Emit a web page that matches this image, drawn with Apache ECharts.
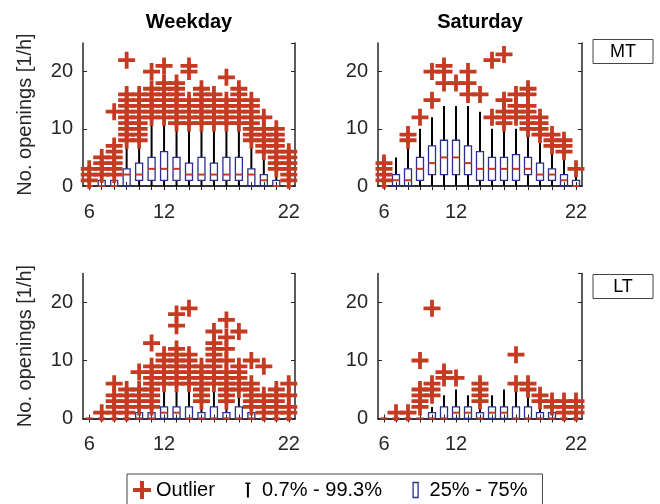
<!DOCTYPE html>
<html>
<head>
<meta charset="utf-8">
<script src="https://cdn.jsdelivr.net/npm/echarts@6/dist/echarts.min.js"></script>
<style>
  html, body { margin: 0; padding: 0; background: #fff; }
  #chart { width: 660px; height: 504px; }
</style>
</head>
<body>
<div id="chart"></div>
<script>
// hours of the day (categories)
const hours = [6, 7, 8, 9, 10, 11, 12, 13, 14, 15, 16, 17, 18, 19, 20, 21, 22];
const hourLabels = [6, 12, 22];
const zeros = [0, 0, 0, 0, 0, 0, 0, 0, 0, 0, 0, 0, 0, 0, 0, 0, 0];

// Weekday, MT
const wdMtQ1 = [0, 0, 0, 0, 1, 1, 1, 1, 1, 1, 1, 1, 1, 0, 0, 0, 0];
const wdMtMed = [0, 0, 0, 2, 2, 3, 3, 3, 2, 2, 2, 2, 2, 2, 1, 0, 0];
const wdMtQ3 = [0, 1, 1, 3, 4, 5, 6, 5, 4, 5, 4, 5, 5, 3, 2, 1, 0];
const wdMtHi = [0, 1, 1, 7, 7, 11, 11, 10, 10, 10, 10, 10, 10, 7, 5, 2, 0];
const wdMtOut = [[1, 2, 3], [2, 3, 4, 5], [2, 3, 4, 5, 6, 7, 13], [8, 9, 10, 11, 12, 13, 14, 15, 16, 22],
  [8, 9, 10, 11, 12, 13, 14, 15, 16], [12, 13, 14, 15, 16, 17, 20], [12, 13, 14, 15, 16, 17, 18, 21],
  [11, 12, 13, 14, 15, 16, 17, 18], [11, 12, 13, 14, 15, 20, 21], [11, 12, 13, 14, 15, 16, 17],
  [11, 12, 13, 14, 15, 16], [11, 12, 13, 14, 15, 19], [11, 12, 13, 14, 15, 16, 17],
  [8, 9, 10, 11, 12, 13, 14, 15], [6, 7, 8, 9, 10, 12], [3, 4, 5, 6, 7, 8, 9, 10], [1, 2, 3, 4, 5, 6]];

// Saturday, MT
const satMtQ1 = [0, 0, 0, 1, 2, 2, 2, 2, 1, 1, 1, 1, 2, 1, 1, 0, 0];
const satMtMed = [0, 1, 1, 3, 4, 5, 5, 4, 3, 3, 3, 3, 3, 2, 2, 1, 0];
const satMtQ3 = [0, 2, 3, 5, 7, 8, 8, 7, 6, 5, 5, 5.5, 5, 4, 3, 2, 1];
const satMtHi = [0, 5, 7, 10, 12, 14, 14, 14, 13, 10, 10, 10, 9, 8, 6, 5, 2];
const satMtOut = [[1, 2, 3, 4], [], [8, 9], [12], [15, 20], [18, 20, 21], [18], [16, 18, 20], [16], [12, 22],
  [11, 12, 13, 15, 23], [12, 13, 14, 16], [10, 11, 12, 13, 14, 16, 17], [9, 10, 11, 12], [7, 8, 9], [6, 7, 8], [3]];

// Weekday, LT
const wdLtMed = [0, 0, 0, 0, 0, 0, 1, 1, 0, 0, 0, 0, 0, 0, 0, 0, 0];
const wdLtQ3 = [0, 0, 0, 0, 1, 1, 2, 2, 2, 1, 2, 1, 2, 1, 0, 0, 0];
const wdLtHi = [0, 0, 0, 0, 1, 1, 5, 5, 5, 2, 5, 2, 4, 1, 0, 0, 0];
const wdLtOut = [[], [1], [1, 2, 3, 4, 6], [1, 2, 3, 4, 5], [2, 3, 4, 5, 8], [2, 3, 4, 5, 6, 7, 8, 9, 13],
  [6, 7, 8, 9, 10, 11], [6, 7, 8, 9, 10, 11, 12, 16, 18], [6, 7, 8, 9, 10, 11, 19], [3, 4, 5, 6, 7, 8, 9],
  [6, 7, 8, 9, 10, 11, 12, 13, 15], [3, 4, 5, 6, 7, 8, 10, 12, 14, 17], [5, 6, 7, 8, 9, 15],
  [2, 3, 4, 5, 6, 10], [1, 2, 3, 4, 9], [1, 2, 3, 4, 5], [1, 2, 4, 6]];

// Saturday, LT
const satLtMed = [0, 0, 0, 0, 0, 0, 1, 1, 0, 1, 1, 0, 0, 0, 0, 0, 0];
const satLtQ3 = [0, 0, 0, 0, 1, 2, 2, 2, 1, 2, 2, 2, 2, 1, 1, 0, 0];
const satLtHi = [0, 0, 0, 0, 2, 4, 5, 4, 2, 4, 5, 5, 4, 2, 1, 0, 0];
const satLtOut = [[], [1], [1], [2, 3, 4, 5, 10], [4, 5, 6, 19], [7, 8], [7], [], [3, 4, 5, 6], [], [],
  [6, 11], [5, 6], [3, 4], [2, 3], [1, 2, 3], [1, 2, 3]];

const FONT = "'Liberation Sans', Arial, Helvetica, sans-serif";
const AXIS_COLOR = '#262626';
const RED = '#c53b22';
const BLUE = '#2b2f8f';
const PLUS = 'path://M7,0h4v7h7v4h-7v7h-4v-7h-7v-4h7z';

const panels = [
  { lo: zeros, q1: wdMtQ1, med: wdMtMed, q3: wdMtQ3, hi: wdMtHi, out: wdMtOut },
  { lo: zeros, q1: satMtQ1, med: satMtMed, q3: satMtQ3, hi: satMtHi, out: satMtOut },
  { lo: zeros, q1: zeros, med: wdLtMed, q3: wdLtQ3, hi: wdLtHi, out: wdLtOut },
  { lo: zeros, q1: zeros, med: satLtMed, q3: satLtQ3, hi: satLtHi, out: satLtOut }
];

const grids = [
  { left: 83, top: 43, width: 212, height: 143 },
  { left: 378, top: 43, width: 204, height: 143 },
  { left: 83, top: 273.5, width: 212, height: 145 },
  { left: 378, top: 273.5, width: 204, height: 145 }
];

// whisker: lower and upper black lines
function renderWhisker(params, api) {
  const x = api.value(0);
  const lo = api.coord([x, api.value(1)]);
  const q1 = api.coord([x, api.value(2)]);
  const q3 = api.coord([x, api.value(4)]);
  const hi = api.coord([x, api.value(5)]);
  const st = { stroke: '#000', lineWidth: 2 };
  const children = [];
  if (q1[1] < lo[1] - 0.5) {
    children.push({ type: 'line', shape: { x1: lo[0], y1: lo[1], x2: q1[0], y2: q1[1] }, style: st });
  }
  if (hi[1] < q3[1] - 0.5) {
    children.push({ type: 'line', shape: { x1: q3[0], y1: q3[1], x2: hi[0], y2: hi[1] }, style: st });
  }
  return { type: 'group', children: children };
}

// box: 25%-75% rectangle + median
function renderBox(params, api) {
  const x = api.value(0);
  const q1 = api.coord([x, api.value(2)]);
  const med = api.coord([x, api.value(3)]);
  const q3 = api.coord([x, api.value(4)]);
  const w = 7;
  return {
    type: 'group',
    children: [
      {
        type: 'rect',
        shape: { x: q1[0] - w / 2, y: q3[1], width: w, height: q1[1] - q3[1] },
        style: { fill: 'rgba(0,0,0,0)', stroke: BLUE, lineWidth: 1.3 }
      },
      {
        type: 'line',
        shape: { x1: med[0] - w / 2, y1: med[1], x2: med[0] + w / 2, y2: med[1] },
        style: { stroke: RED, lineWidth: 2 }
      }
    ]
  };
}

const xAxes = [];
const yAxes = [];
const series = [];
const tickStyle = { color: AXIS_COLOR, width: 1 };
const lineStyle = { color: AXIS_COLOR, width: 1.5 };

grids.forEach((g, gi) => {
  const xBase = {
    gridIndex: gi, type: 'category', data: hours, boundaryGap: true,
    axisLine: { show: true, lineStyle: lineStyle },
    axisTick: { show: true, inside: true, length: 4, interval: 0, alignWithLabel: true, lineStyle: tickStyle },
    splitLine: { show: false }
  };
  xAxes.push(Object.assign({}, xBase, {
    position: 'bottom',
    axisLabel: {
      interval: (i, v) => hourLabels.indexOf(Number(v)) >= 0,
      fontSize: 20, color: AXIS_COLOR, fontFamily: FONT, margin: 16
    }
  }));
  xAxes.push(Object.assign({}, xBase, { position: 'top', axisLabel: { show: false } }));

  const yBase = {
    gridIndex: gi, type: 'value', min: 0, max: 25, interval: 10,
    axisLine: { show: true, lineStyle: lineStyle },
    axisTick: { show: true, inside: true, length: 4, lineStyle: tickStyle },
    splitLine: { show: false }
  };
  const yLeft = Object.assign({}, yBase, {
    position: 'left',
    axisLabel: { fontSize: 20, color: AXIS_COLOR, fontFamily: FONT, margin: 10, showMaxLabel: false }
  });
  if (gi % 2 === 0) {
    yLeft.name = 'No. openings [1/h]';
    yLeft.nameLocation = 'middle';
    yLeft.nameGap = 48;
    yLeft.nameTextStyle = { fontSize: 20, color: AXIS_COLOR, fontFamily: FONT };
  }
  yAxes.push(yLeft);
  yAxes.push(Object.assign({}, yBase, { position: 'right', axisLabel: { show: false } }));

  const p = panels[gi];
  const boxData = hours.map((h, i) => [i, p.lo[i], p.q1[i], p.med[i], p.q3[i], p.hi[i]]);
  const outData = [];
  p.out.forEach((vals, i) => vals.forEach(v => outData.push([i, v])));

  series.push({
    name: '0.7% - 99.3%', type: 'custom', xAxisIndex: gi * 2, yAxisIndex: gi * 2,
    renderItem: renderWhisker, data: boxData, z: 2, silent: true,
    encode: { x: 0, y: [1, 2, 3, 4, 5] }
  });
  series.push({
    name: '25% - 75%', type: 'custom', xAxisIndex: gi * 2, yAxisIndex: gi * 2,
    renderItem: renderBox, data: boxData, z: 3, silent: true,
    encode: { x: 0, y: [1, 2, 3, 4, 5] }
  });
  series.push({
    name: 'Outlier', type: 'scatter', xAxisIndex: gi * 2, yAxisIndex: gi * 2,
    symbol: PLUS, symbolSize: 17, itemStyle: { color: RED, opacity: 1 },
    data: outData, z: 4, silent: true, clip: false
  });
});

const chart = echarts.init(document.getElementById('chart'), null, { renderer: 'canvas' });
chart.setOption({
  animation: false,
  backgroundColor: '#fff',
  textStyle: { fontFamily: FONT },
  grid: grids.map(g => Object.assign({ containLabel: false }, g)),
  xAxis: xAxes,
  yAxis: yAxes,
  series: series,
  legend: {
    left: 127, top: 474,
    padding: [6, 15, 30, 6],
    itemGap: 24, itemWidth: 18, itemHeight: 18,
    borderColor: '#444', borderWidth: 1,
    selectedMode: false,
    textStyle: { fontSize: 20, color: '#000', fontFamily: FONT },
    data: [
      { name: 'Outlier', icon: PLUS, itemStyle: { color: RED } },
      { name: '0.7% - 99.3%', icon: 'path://M0,0M18,18M8,2.5h2v14h-2zM6.5,1.5h5v1.5h-5z', itemStyle: { color: '#000' } },
      { name: '25% - 75%', icon: 'path://M0,0M18,18M6.5,1.5h5v15h-5z',
        itemStyle: { color: 'rgba(0,0,0,0)', borderColor: BLUE, borderWidth: 1.3 } }
    ]
  },
  graphic: [
    { type: 'text', x: 189, y: 22, style: { text: 'Weekday', font: 'bold 20px ' + FONT, fill: '#000', align: 'center', verticalAlign: 'middle' } },
    { type: 'text', x: 480, y: 22, style: { text: 'Saturday', font: 'bold 20px ' + FONT, fill: '#000', align: 'center', verticalAlign: 'middle' } },
    { type: 'rect', shape: { x: 593, y: 39.5, width: 60, height: 24 }, style: { fill: '#fff', stroke: '#444', lineWidth: 1 } },
    { type: 'text', x: 623, y: 52, style: { text: 'MT', font: '18px ' + FONT, fill: '#000', align: 'center', verticalAlign: 'middle' } },
    { type: 'rect', shape: { x: 593, y: 274.5, width: 60, height: 24 }, style: { fill: '#fff', stroke: '#444', lineWidth: 1 } },
    { type: 'text', x: 623, y: 287, style: { text: 'LT', font: '18px ' + FONT, fill: '#000', align: 'center', verticalAlign: 'middle' } }
  ]
});
</script>
</body>
</html>
